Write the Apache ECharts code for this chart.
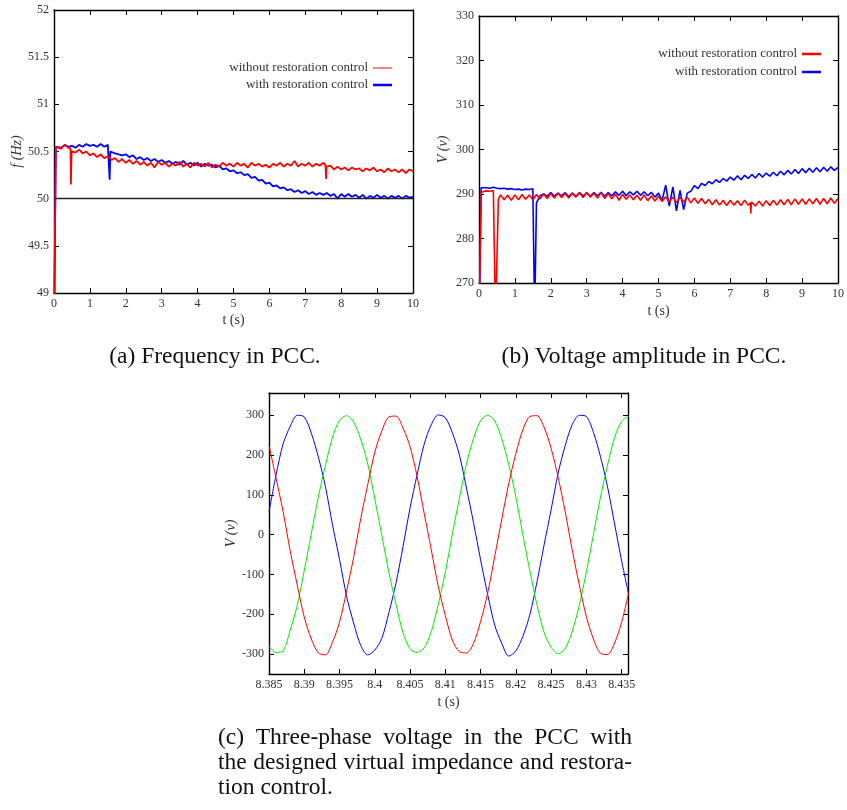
<!DOCTYPE html>
<html>
<head>
<meta charset="utf-8">
<script src="https://cdn.jsdelivr.net/npm/echarts@6/dist/echarts.min.js"></script>
<style>
  html, body { margin: 0; padding: 0; background: #fff; }
  #chart { width: 847px; height: 810px; }
</style>
</head>
<body>
<div id="chart"></div>
<script>
// ---- values ----

// (a) / (b): samples every 0.1 s from 0.1 s to 10 s
const sampleTimes = []
for (let i = 1; i <= 100; i++) sampleTimes.push(i / 10)

// (a) frequency, without restoration control (red)
const freqWithout = [
  50.56, 50.53, 50.57, 50.54, 50.51, 50.49, 50.52, 50.48, 50.50, 50.46,
  50.48, 50.44, 50.47, 50.43, 50.45, 50.41, 50.43, 50.39, 50.42, 50.38,
  50.41, 50.37, 50.40, 50.36, 50.39, 50.35, 50.38, 50.33, 50.39, 50.36,
  50.38, 50.34, 50.37, 50.35, 50.39, 50.34, 50.37, 50.33, 50.38, 50.35,
  50.37, 50.34, 50.38, 50.33, 50.36, 50.34, 50.38, 50.35, 50.37, 50.34,
  50.38, 50.35, 50.37, 50.33, 50.38, 50.35, 50.37, 50.34, 50.36, 50.33,
  50.37, 50.35, 50.38, 50.34, 50.37, 50.35, 50.40, 50.34, 50.37, 50.35,
  50.38, 50.34, 50.37, 50.35, 50.38, 50.33, 50.35, 50.31, 50.34, 50.31,
  50.33, 50.30, 50.33, 50.31, 50.32, 50.29, 50.32, 50.30, 50.33, 50.29,
  50.31, 50.28, 50.32, 50.29, 50.31, 50.28, 50.31, 50.27, 50.31, 50.29
]
// start-up and short dips, as [t, f]
const freqWithoutEvents = [
  [0, 48.5], [0.03, 48.5], [0.05, 50.55],
  [0.46, 50.53], [0.47, 50.15], [0.49, 50.50],
  [7.56, 50.36], [7.58, 50.21], [7.59, 50.34]
]

// (a) frequency, with restoration control (blue)
const freqWith = [
  50.56, 50.54, 50.57, 50.55, 50.56, 50.54, 50.57, 50.55, 50.58, 50.56,
  50.57, 50.55, 50.58, 50.55, 50.57, 50.50, 50.48, 50.47, 50.46, 50.47,
  50.44, 50.46, 50.42, 50.44, 50.41, 50.43, 50.40, 50.42, 50.39, 50.41,
  50.38, 50.40, 50.37, 50.39, 50.36, 50.40, 50.36, 50.38, 50.35, 50.38,
  50.34, 50.37, 50.35, 50.36, 50.33, 50.35, 50.31, 50.32, 50.29, 50.30,
  50.27, 50.28, 50.25, 50.26, 50.22, 50.23, 50.19, 50.20, 50.16, 50.17,
  50.13, 50.14, 50.11, 50.12, 50.09, 50.10, 50.07, 50.09, 50.06, 50.08,
  50.05, 50.07, 50.04, 50.06, 50.04, 50.06, 50.03, 50.05, 50.00, 50.05,
  50.02, 50.05, 50.02, 50.04, 50.01, 50.04, 50.00, 50.03, 50.01, 50.04,
  50.01, 50.03, 50.00, 50.03, 50.01, 50.03, 50.00, 50.03, 50.01, 50.02
]
const freqWithEvents = [
  [0, 48.5], [0.03, 48.5], [0.05, 50.55],
  [1.54, 50.56], [1.55, 50.2], [1.57, 50.5]
]

// (b) voltage amplitude, without restoration control (red)
const voltWithout = [
  290.5, 290.7, 290.6, 290.8, 262.0, 289.8, 288.7, 289.7, 288.6, 289.8,
  288.7, 289.9, 288.8, 289.8, 288.7, 289.9, 288.9, 290.0, 289.0, 290.1,
  289.1, 290.2, 289.2, 290.1, 289.1, 290.2, 289.3, 290.3, 289.2, 290.4,
  289.3, 290.2, 289.1, 290.3, 289.0, 290.1, 288.9, 290.0, 288.6, 289.9,
  288.8, 289.8, 288.7, 289.7, 288.6, 289.8, 288.5, 289.6, 288.4, 289.5,
  288.3, 289.4, 288.2, 289.3, 288.1, 289.2, 288.2, 289.3, 288.0, 289.1,
  287.9, 289.0, 287.8, 288.8, 287.6, 288.7, 287.5, 288.6, 287.4, 288.6,
  287.5, 288.5, 287.4, 288.6, 287.5, 288.5, 287.3, 288.4, 287.3, 288.5,
  287.4, 288.6, 287.5, 288.7, 287.6, 288.8, 287.6, 288.9, 287.7, 288.9,
  287.7, 288.9, 287.8, 289.0, 287.7, 289.0, 287.8, 289.1, 287.9, 289.0
]
const voltWithoutEvents = [
  [0, 260], [0.04, 260], [0.06, 290.4],
  [0.45, 290.7], [0.46, 262], [0.54, 288.8],
  [7.56, 288.0], [7.57, 285.6], [7.59, 288.2]
]

// (b) voltage amplitude, with restoration control (blue)
const voltWith = [
  291.5, 291.4, 291.3, 291.5, 291.3, 291.2, 291.3, 291.1, 291.2, 291.0,
  291.1, 290.9, 291.1, 291.0, 291.2, 288.0, 289.6, 290.0, 289.5, 290.3,
  289.5, 290.2, 289.6, 290.3, 289.4, 290.2, 289.5, 290.3, 289.6, 290.2,
  289.5, 290.3, 289.6, 290.4, 289.5, 290.3, 289.6, 290.5, 289.7, 290.6,
  289.6, 290.5, 289.8, 290.6, 289.7, 290.5, 289.6, 290.4, 289.3, 290.2,
  288.5, 292.0, 287.3, 291.6, 286.2, 290.8, 286.5, 290.2, 290.6, 291.9,
  291.2, 292.4, 291.9, 292.8, 292.3, 293.2, 292.6, 293.5, 292.9, 293.8,
  293.1, 294.1, 293.2, 294.2, 293.5, 294.4, 293.6, 294.6, 293.8, 294.7,
  294.0, 294.9, 294.1, 295.1, 294.3, 295.3, 294.5, 295.5, 294.6, 295.7,
  294.8, 295.8, 294.9, 295.9, 295.0, 296.0, 295.1, 296.1, 295.3, 296.0
]
const voltWithEvents = [
  [0, 260], [0.04, 260], [0.06, 291.4],
  [1.54, 291.2], [1.55, 262], [1.57, 262]
]

// (c) three-phase voltage, samples every 1 ms from 8.385 s
const phaseTimes = []
for (let k = 0; k < 52; k++) phaseTimes.push(+(8.385 + k * 0.001).toFixed(3))

const phaseA = [
  225, 142, 58, -40, -126, -207, -262, -297, -302, -270,
  -220, -142, -57, 40, 126, 207, 261, 296, 298, 268,
  221, 146, 54, -37, -130, -203, -265, -294, -297, -273,
  -218, -147, -55, 39, 129, 204, 264, 297, 299, 270,
  217, 144, 57, -39, -127, -206, -262, -298, -301, -272,
  -220, -145
]
const phaseB = [
  -280, -296, -292, -240, -178, -90, 3, 95, 174, 245,
  287, 299, 283, 240, 178, 90, -2, -95, -174, -246,
  -287, -296, -284, -244, -175, -94, 2, 92, 178, 242,
  286, 300, 286, 241, 175, 95, -1, -92, -177, -245,
  -283, -299, -286, -242, -177, -93, 1, 94, 175, 244,
  285, 297
]
const phaseC = [
  57, 150, 228, 272, 300, 296, 255, 195, 121, 25,
  -62, -155, -222, -278, -302, -290, -260, -196, -122, -30,
  67, 151, 227, 276, 301, 294, 256, 200, 117, 30,
  -63, -150, -227, -273, -305, -292, -255, -200, -118, -26,
  63, 155, 224, 277, 300, 297, 257, 196, 120, 27,
  -66, -150
]

// tick labels
const phaseTimeTicks = ['8.385', '8.39', '8.395', '8.4', '8.405', '8.41', '8.415', '8.42', '8.425', '8.43', '8.435']
const phaseVoltTicks = [-300, -200, -100, 0, 100, 200, 300]

const legendNames = ['without restoration control', 'with restoration control']
const captionA = '(a) Frequency in PCC.'
const captionB = '(b) Voltage amplitude in PCC.'
const captionC = [
  '(c) Three-phase voltage in the PCC with',
  'the designed virtual impedance and restora-',
  'tion control.'
]

// ---- helpers ----
const SERIF = '"Liberation Serif", "Times New Roman", serif'
const CAPTION_FONT = '23.5px ' + SERIF
const RED = '#ff0000'
const BLUE = '#0000ff'
const GREEN = '#00ee00'

function withEvents(values, events) {
  const pts = values.map((v, i) => [sampleTimes[i], v]).concat(events)
  return pts.sort((a, b) => a[0] - b[0])
}

// gnuplot-like frame: axis line + inward ticks
function frameAxis(extra) {
  return Object.assign({
    type: 'value',
    axisLine: { show: true, onZero: false, lineStyle: { color: '#000', width: 1.4 } },
    axisTick: { show: true, inside: true, length: 5, lineStyle: { color: '#000', width: 1 } },
    axisLabel: { show: false },
    splitLine: { show: false }
  }, extra)
}

const tickLabel = { show: true, color: '#333', fontFamily: SERIF, fontSize: 12, margin: 5 }
const axisNameStyle = { color: '#333', fontFamily: SERIF, fontSize: 14 }
const italicName = Object.assign({}, axisNameStyle, { fontStyle: 'italic' })

function legendBlock(xRight, yTop, gapY, lines) {
  const items = []
  lines.forEach((l, i) => {
    const y = yTop + i * gapY
    items.push({
      type: 'text', x: xRight, y: y,
      style: { text: l.name, font: '13px ' + SERIF, fill: '#333', align: 'right', verticalAlign: 'middle' }
    })
    items.push({
      type: 'line', shape: { x1: xRight + 5, y1: y, x2: xRight + 24, y2: y },
      style: { stroke: l.color, lineWidth: l.width }
    })
  })
  return items
}

// justify a caption line between x0 and x1
const measureCtx = document.createElement('canvas').getContext('2d')
measureCtx.font = CAPTION_FONT
function captionLine(text, x0, x1, y, justify) {
  const words = text.split(' ')
  const widths = words.map(w => measureCtx.measureText(w).width)
  const total = widths.reduce((a, b) => a + b, 0)
  const gap = justify ? (x1 - x0 - total) / (words.length - 1) : measureCtx.measureText(' ').width
  let x = x0
  return words.map((w, i) => {
    const el = {
      type: 'text', x: x, y: y,
      style: { text: w, font: CAPTION_FONT, fill: '#111', verticalAlign: 'middle' }
    }
    x += widths[i] + gap
    return el
  })
}

// ---- chart ----
const chart = echarts.init(document.getElementById('chart'))

const phaseTickValues = phaseTimeTicks.map(Number)

const option = {
  animation: false,
  backgroundColor: '#fff',
  grid: [
    { left: 54, top: 10, width: 359, height: 283 },
    { left: 479, top: 16, width: 363, height: 267 },
    { left: 269, top: 393, width: 359, height: 281 }
  ],
  xAxis: [
    // (a)
    frameAxis({ gridIndex: 0, min: 0, max: 10, interval: 1, position: 'bottom',
      axisLabel: tickLabel, name: 't (s)', nameLocation: 'middle', nameGap: 20, nameTextStyle: axisNameStyle }),
    frameAxis({ gridIndex: 0, min: 0, max: 10, interval: 1, position: 'top' }),
    // (b)
    frameAxis({ gridIndex: 1, min: 0, max: 10, interval: 1, position: 'bottom',
      axisLabel: tickLabel, name: 't (s)', nameLocation: 'middle', nameGap: 21, nameTextStyle: axisNameStyle }),
    frameAxis({ gridIndex: 1, min: 0, max: 10, interval: 1, position: 'top' }),
    // (c)
    frameAxis({ gridIndex: 2, min: 8.385, max: 8.4359, position: 'bottom',
      axisTick: { show: true, inside: true, length: 5, lineStyle: { color: '#000' }, customValues: phaseTickValues },
      axisLabel: Object.assign({}, tickLabel, { customValues: phaseTickValues,
        formatter: v => phaseTimeTicks.find(s => Math.abs(Number(s) - v) < 1e-6) || '' }),
      name: 't (s)', nameLocation: 'middle', nameGap: 21, nameTextStyle: axisNameStyle }),
    frameAxis({ gridIndex: 2, min: 8.385, max: 8.4359, position: 'top',
      axisTick: { show: true, inside: true, length: 5, lineStyle: { color: '#000' }, customValues: phaseTickValues } })
  ],
  yAxis: [
    // (a)
    frameAxis({ gridIndex: 0, min: 49, max: 52, interval: 0.5, position: 'left',
      axisLabel: tickLabel, name: 'f (Hz)', nameLocation: 'middle', nameGap: 29, nameTextStyle: italicName }),
    frameAxis({ gridIndex: 0, min: 49, max: 52, interval: 0.5, position: 'right' }),
    // (b)
    frameAxis({ gridIndex: 1, min: 270, max: 330, interval: 10, position: 'left',
      axisLabel: tickLabel, name: 'V (v)', nameLocation: 'middle', nameGap: 29, nameTextStyle: italicName }),
    frameAxis({ gridIndex: 1, min: 270, max: 330, interval: 10, position: 'right' }),
    // (c)
    frameAxis({ gridIndex: 2, min: -350, max: 356, position: 'left',
      axisTick: { show: true, inside: true, length: 5, lineStyle: { color: '#000' }, customValues: phaseVoltTicks },
      axisLabel: Object.assign({}, tickLabel, { customValues: phaseVoltTicks }),
      name: 'V (v)', nameLocation: 'middle', nameGap: 29, nameTextStyle: italicName }),
    frameAxis({ gridIndex: 2, min: -350, max: 356, position: 'right',
      axisTick: { show: true, inside: true, length: 5, lineStyle: { color: '#000' }, customValues: phaseVoltTicks } })
  ],
  series: [
    {
      name: legendNames[1], type: 'line', xAxisIndex: 0, yAxisIndex: 0,
      data: withEvents(freqWith, freqWithEvents), showSymbol: false,
      lineStyle: { color: BLUE, width: 1.8 }
    },
    {
      name: legendNames[0], type: 'line', xAxisIndex: 0, yAxisIndex: 0,
      data: withEvents(freqWithout, freqWithoutEvents), showSymbol: false,
      lineStyle: { color: RED, width: 1.8 },
      markLine: {
        silent: true, symbol: 'none', label: { show: false },
        lineStyle: { color: '#222', width: 1.3, type: 'solid' },
        data: [{ yAxis: 50 }]
      }
    },
    {
      name: legendNames[1], type: 'line', xAxisIndex: 2, yAxisIndex: 2,
      data: withEvents(voltWith, voltWithEvents), showSymbol: false,
      lineStyle: { color: BLUE, width: 1.6 }
    },
    {
      name: legendNames[0], type: 'line', xAxisIndex: 2, yAxisIndex: 2,
      data: withEvents(voltWithout, voltWithoutEvents), showSymbol: false,
      lineStyle: { color: RED, width: 1.6 }
    },
    {
      type: 'line', xAxisIndex: 4, yAxisIndex: 4, smooth: 0.3, showSymbol: false,
      data: phaseTimes.map((t, i) => [t, phaseC[i]]), lineStyle: { color: BLUE, width: 1 }
    },
    {
      type: 'line', xAxisIndex: 4, yAxisIndex: 4, smooth: 0.3, showSymbol: false,
      data: phaseTimes.map((t, i) => [t, phaseB[i]]), lineStyle: { color: GREEN, width: 1 }
    },
    {
      type: 'line', xAxisIndex: 4, yAxisIndex: 4, smooth: 0.3, showSymbol: false,
      data: phaseTimes.map((t, i) => [t, phaseA[i]]), lineStyle: { color: RED, width: 1 }
    }
  ],
  graphic: [].concat(
    legendBlock(368, 68, 17, [
      { name: legendNames[0], color: RED, width: 1 },
      { name: legendNames[1], color: BLUE, width: 2.5 }
    ]),
    legendBlock(797, 54, 18, [
      { name: legendNames[0], color: RED, width: 2.5 },
      { name: legendNames[1], color: BLUE, width: 2.5 }
    ]),
    [
      { type: 'text', x: 215, y: 357, style: { text: captionA, font: CAPTION_FONT, fill: '#111', align: 'center', verticalAlign: 'middle' } },
      { type: 'text', x: 644, y: 357, style: { text: captionB, font: CAPTION_FONT, fill: '#111', align: 'center', verticalAlign: 'middle' } }
    ],
    captionLine(captionC[0], 218, 632, 738, true),
    captionLine(captionC[1], 218, 632, 763, true),
    captionLine(captionC[2], 218, 632, 788, false)
  )
}

chart.setOption(option)
</script>
</body>
</html>
